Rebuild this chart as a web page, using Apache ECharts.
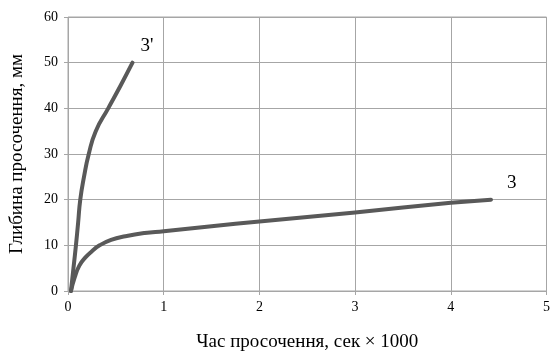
<!DOCTYPE html>
<html>
<head>
<meta charset="utf-8">
<script src="https://cdn.jsdelivr.net/npm/echarts@6/dist/echarts.min.js"></script>
<style>
  html, body { margin: 0; padding: 0; background: #fff; }
  #chart { width: 553px; height: 361px; }
</style>
</head>
<body>
<div id="chart"></div>
<script>
// Curve 3: seepage depth (mm) vs time (s × 1000)
const curve3Time  = [0.031, 0.07, 0.12, 0.18, 0.25, 0.33, 0.45, 0.60, 0.80, 1.0, 1.5, 2.0, 3.0, 4.0, 4.42];
const curve3Depth = [0, 3.0, 5.6, 7.3, 8.7, 10.0, 11.2, 12.0, 12.7, 13.1, 14.2, 15.2, 17.2, 19.3, 20];

// Curve 3'
const curve3pTime  = [0.031, 0.057, 0.083, 0.106, 0.128, 0.167, 0.217, 0.29, 0.42, 0.55, 0.674];
const curve3pDepth = [0, 5, 10, 15, 20, 25, 30, 35, 40, 45, 50];

const curveNames = ['3', "3'"];
const xTicks = { min: 0, max: 5, interval: 1 };
const yTicks = { min: 0, max: 60, interval: 10 };

const serif = '"Liberation Serif", "Times New Roman", serif';

function pairs(xs, ys) { return xs.map((x, i) => [x, ys[i]]); }

function curveSeries(name, xs, ys, offset) {
  return {
    name: name, type: 'line', smooth: 0.5, symbol: 'none',
    lineStyle: { color: '#595959', width: 4, cap: 'round', join: 'round' },
    endLabel: {
      show: true, formatter: name, offset: offset,
      fontFamily: serif, fontSize: 19, color: '#000'
    },
    data: pairs(xs, ys)
  };
}

const chart = echarts.init(document.getElementById('chart'));
chart.setOption({
  animation: false,
  grid: { left: 67, right: 6, top: 17, bottom: 70, show: true, borderColor: '#a6a6a6', borderWidth: 1 },
  xAxis: {
    type: 'value', min: xTicks.min, max: xTicks.max, interval: xTicks.interval,
    name: 'Час просочення, сек × 1000', nameLocation: 'middle', nameGap: 42,
    nameTextStyle: { fontFamily: serif, fontSize: 19, color: '#000' },
    axisLine: { show: false },
    axisTick: { show: true, length: 4, lineStyle: { color: '#a6a6a6' } },
    axisLabel: { fontFamily: serif, fontSize: 14, color: '#000', margin: 9 },
    splitLine: { show: true, lineStyle: { color: '#a6a6a6', width: 1 } }
  },
  yAxis: {
    type: 'value', min: yTicks.min, max: yTicks.max, interval: yTicks.interval,
    name: 'Глибина просочення, мм', nameLocation: 'middle', nameGap: 41,
    nameTextStyle: { fontFamily: serif, fontSize: 19, color: '#000' },
    axisLine: { show: false },
    axisTick: { show: true, length: 4, lineStyle: { color: '#a6a6a6' } },
    axisLabel: { fontFamily: serif, fontSize: 14, color: '#000', margin: 10 },
    splitLine: { show: true, lineStyle: { color: '#a6a6a6', width: 1 } }
  },
  series: [
    curveSeries(curveNames[0], curve3Time, curve3Depth, [8, -17]),
    curveSeries(curveNames[1], curve3pTime, curve3pDepth, [0, -17])
  ]
});
</script>
</body>
</html>
